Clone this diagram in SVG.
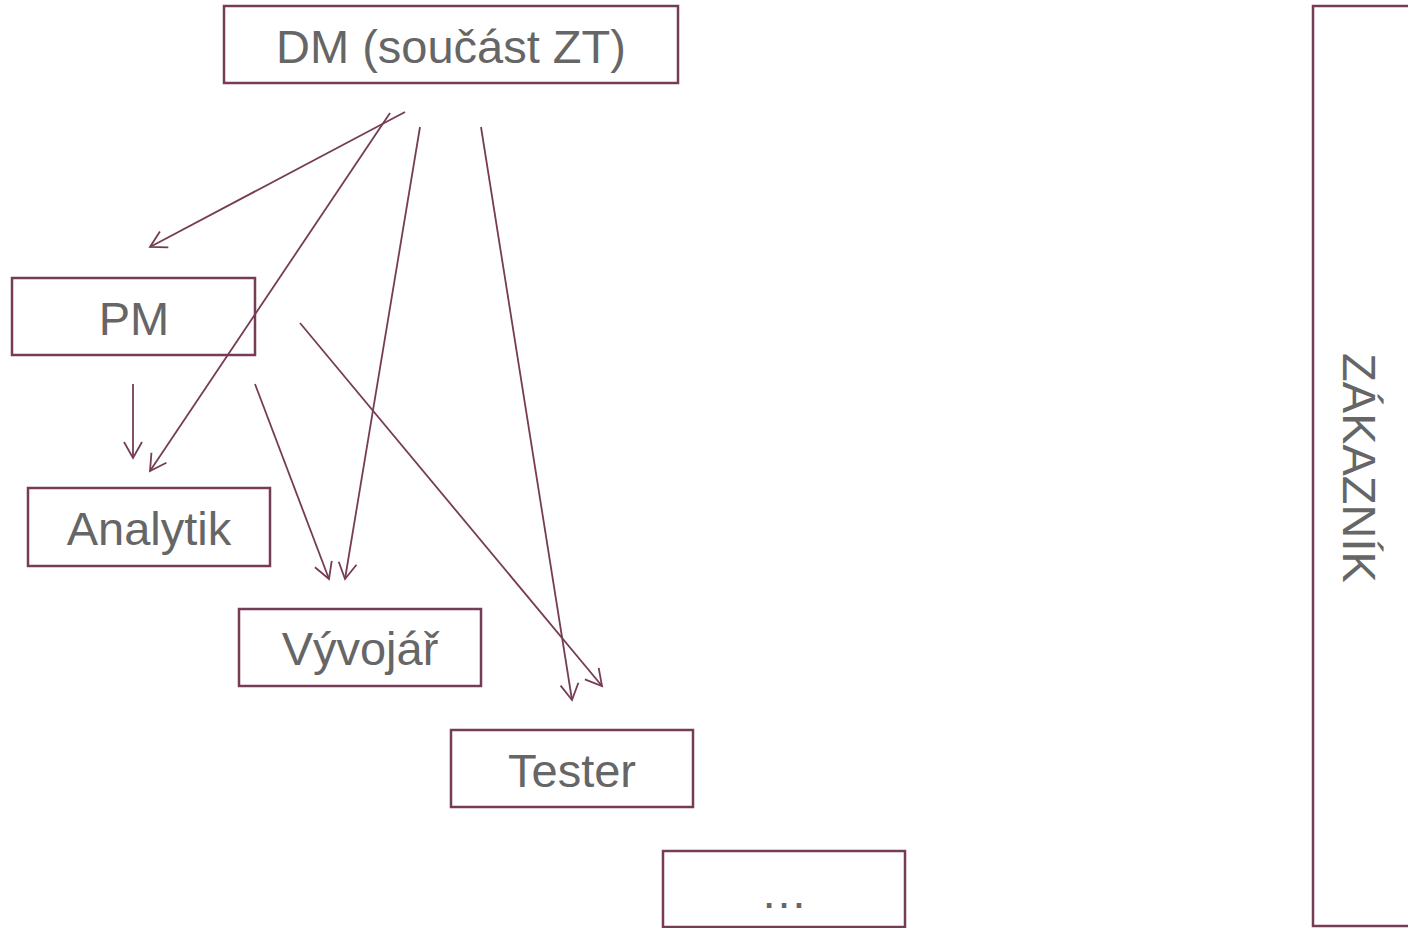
<svg xmlns="http://www.w3.org/2000/svg" width="1408" height="928" viewBox="0 0 1408 928">
<style>
.box{fill:#fff;stroke:#763c55;stroke-width:2.5}
.lbl{font-family:"Liberation Sans",Arial,sans-serif;font-size:47px;fill:#666;text-anchor:middle}
.con{stroke:#763c55;stroke-width:1.8;fill:none;marker-end:url(#arr)}
</style>
<defs>
<marker id="arr" markerUnits="userSpaceOnUse" markerWidth="40" markerHeight="40" viewBox="-20 -20 40 40" refX="0" refY="0" orient="auto">
<path d="M-16,-9 L0,0 L-16,9" fill="none" stroke="#763c55" stroke-width="1.8"/>
</marker>
</defs>
<rect width="1408" height="928" fill="#fff"/>
<g id="dm"><rect class="box" x="224" y="6" width="454" height="77"/><text class="lbl" x="451" y="63">DM (součást ZT)</text></g>
<g id="pm"><rect class="box" x="12" y="278" width="243" height="77"/><text class="lbl" x="134" y="335">PM</text></g>
<g id="analytik"><rect class="box" x="28" y="488" width="242" height="78"/><text class="lbl" x="149" y="545">Analytik</text></g>
<g id="vyvojar"><rect class="box" x="239" y="609" width="242" height="77"/><text class="lbl" x="360" y="665">Vývojář</text></g>
<g id="tester"><rect class="box" x="451" y="730" width="242" height="77"/><text class="lbl" x="572" y="787">Tester</text></g>
<g id="more"><rect class="box" x="663" y="851" width="242" height="76"/><text class="lbl" x="784" y="908">…</text></g>
<g id="zakaznik"><rect class="box" x="1313" y="6" width="120" height="920"/><text class="lbl" transform="translate(1343,468) rotate(90)" x="0" y="0">ZÁKAZNÍK</text></g>
<g id="connectors">
<line class="con" x1="405" y1="112" x2="150" y2="247"/>
<line class="con" x1="390" y1="113" x2="150" y2="471"/>
<line class="con" x1="420" y1="127" x2="345" y2="579"/>
<line class="con" x1="481" y1="127" x2="572" y2="700"/>
<line class="con" x1="133" y1="384" x2="133" y2="458"/>
<line class="con" x1="255" y1="384" x2="329" y2="579"/>
<line class="con" x1="300" y1="323" x2="602" y2="686"/>
</g>
</svg>
